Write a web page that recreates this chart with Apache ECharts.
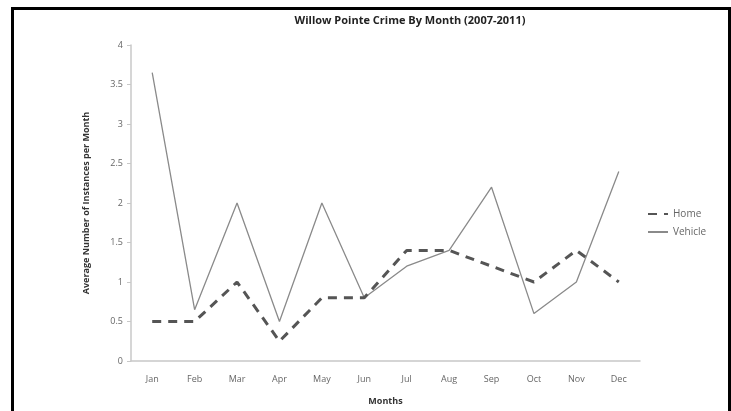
<!DOCTYPE html>
<html>
<head>
<meta charset="utf-8">
<script src="https://cdn.jsdelivr.net/npm/echarts@6/dist/echarts.min.js"></script>
<style>
html,body{margin:0;padding:0;background:#fff;}
#frame{position:absolute;left:11px;top:7px;width:714px;height:410px;border-left:3px solid #000;border-top:3px solid #000;border-right:3px solid #000;box-sizing:content-box;}
#chart{position:absolute;left:0;top:0;width:731px;height:411px;}
</style>
</head>
<body>
<div id="chart"></div>
<div id="frame"></div>
<script>
const months = ['Jan','Feb','Mar','Apr','May','Jun','Jul','Aug','Sep','Oct','Nov','Dec'];
const homeValues = [0.5, 0.5, 1.0, 0.25, 0.8, 0.8, 1.4, 1.4, 1.2, 1.0, 1.4, 1.0];
const vehicleValues = [3.65, 0.65, 2.0, 0.5, 2.0, 0.8, 1.2, 1.4, 2.2, 0.6, 1.0, 2.4];
const yTicks = [0, 0.5, 1, 1.5, 2, 2.5, 3, 3.5, 4];

const chart = echarts.init(document.getElementById('chart'));
const font = 'Open Sans';
chart.setOption({
  backgroundColor: '#fff',
  animation: false,
  title: {
    text: 'Willow Pointe Crime By Month (2007-2011)',
    left: 405, top: 10, textAlign: 'center',
    textStyle: {fontFamily: font, fontSize: 11, fontWeight: 'bold', color: '#222'}
  },
  legend: {
    orient: 'vertical', left: 642, top: 204, itemGap: 8,
    itemWidth: 20, itemHeight: 10,
    itemStyle: {opacity: 0},
    textStyle: {fontFamily: font, fontSize: 10, color: '#666'},
    data: ['Home', 'Vehicle']
  },
  grid: {left: 131, right: 91, top: 45, bottom: 45},
  xAxis: {
    type: 'category', data: months, boundaryGap: true,
    name: 'Months', nameLocation: 'middle', nameGap: 36,
    nameTextStyle: {fontFamily: font, fontSize: 9, fontWeight: 'bold', color: '#333'},
    axisLine: {lineStyle: {color: '#c8c8c8', width: 1.5}},
    axisTick: {show: false},
    axisLabel: {fontFamily: font, fontSize: 9, color: '#666', margin: 14}
  },
  yAxis: {
    type: 'value', min: 0, max: 4, interval: 0.5,
    name: 'Average Number of Instances per Month', nameLocation: 'middle', nameGap: 40,
    nameTextStyle: {fontFamily: font, fontSize: 9, fontWeight: 'bold', color: '#333'},
    axisLine: {show: true, lineStyle: {color: '#c8c8c8', width: 1.5}},
    axisTick: {show: true, length: 4, lineStyle: {color: '#c8c8c8'}},
    splitLine: {show: false},
    axisLabel: {fontFamily: font, fontSize: 9, color: '#666', margin: 8,
      formatter: v => yTicks.includes(v) ? String(v) : ''}
  },
  series: [
    {
      name: 'Home', type: 'line', data: homeValues, symbol: 'none',
      lineStyle: {color: '#555', width: 3, type: [9, 7]},
      itemStyle: {color: '#555'}, z: 3
    },
    {
      name: 'Vehicle', type: 'line', data: vehicleValues, symbol: 'none',
      lineStyle: {color: '#8a8a8a', width: 1.3},
      itemStyle: {color: '#8a8a8a'}, z: 2
    }
  ]
});
</script>
</body>
</html>
